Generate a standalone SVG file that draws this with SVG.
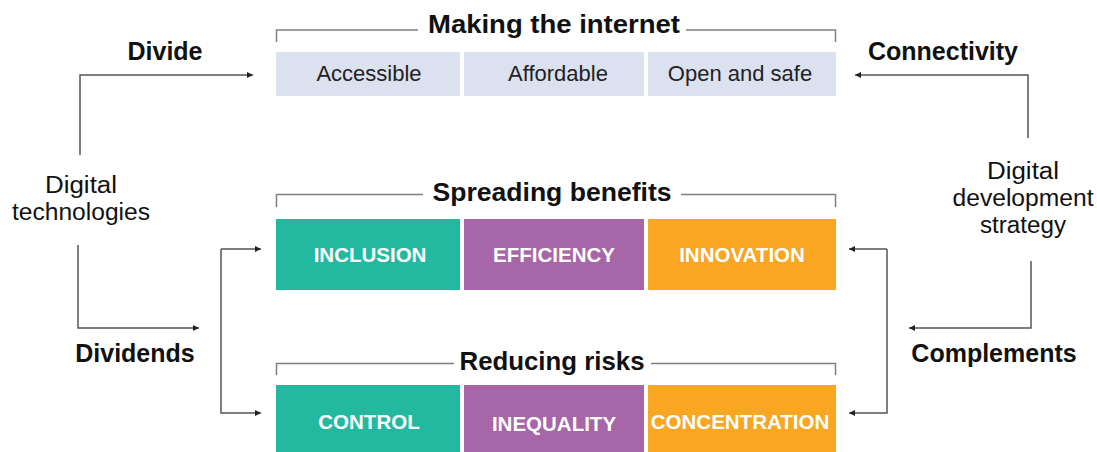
<svg xmlns="http://www.w3.org/2000/svg" width="1097" height="452" viewBox="0 0 1097 452">
<style>
.lbl{font-family:"Liberation Sans",Arial,sans-serif;font-size:25px;fill:#111;text-anchor:middle}
.ml{font-family:"Liberation Sans",Arial,sans-serif;font-size:23px;fill:#111;text-anchor:middle}
.bold{font-weight:bold}
.title{font-family:"Liberation Sans",Arial,sans-serif;font-size:26px;font-weight:bold;fill:#111;text-anchor:middle}
.top{font-family:"Liberation Sans",Arial,sans-serif;font-size:22px;fill:#222;text-anchor:middle}
.box{font-family:"Liberation Sans",Arial,sans-serif;font-size:20.5px;font-weight:bold;fill:#fff;text-anchor:middle}
.br{fill:none;stroke:#808080;stroke-width:1.5}
.con{fill:none;stroke:#555;stroke-width:1.5}
.light{fill:#DCE1F0}
.teal{fill:#23B9A0}
.purple{fill:#A766A8}
.orange{fill:#F9A622}
</style>
<defs>
<marker id="arr" viewBox="0 0 10 10" refX="10" refY="5" markerWidth="6" markerHeight="6" markerUnits="userSpaceOnUse" orient="auto">
<path d="M0,0 L10,5 L0,10 z" fill="#222"/>
</marker>
</defs>

<g id="making-internet">
<path class="br" d="M276.5,42 V30 H418 M686,30 H835.5 V42"/>
<text class="title" x="554" y="33" textLength="252" lengthAdjust="spacingAndGlyphs">Making the internet</text>
<rect class="light" x="276" y="52" width="184" height="44"/>
<rect class="light" x="464" y="52" width="180" height="44"/>
<rect class="light" x="648" y="52" width="188" height="44"/>
<text class="top" x="369" y="81">Accessible</text>
<text class="top" x="558" y="81">Affordable</text>
<text class="top" x="740" y="81">Open and safe</text>
</g>

<g id="spreading-benefits">
<path class="br" d="M276.5,207 V194.5 H423 M681,194.5 H835.5 V207"/>
<text class="title" x="552" y="201" textLength="239" lengthAdjust="spacingAndGlyphs">Spreading benefits</text>
<rect class="teal" x="276" y="219" width="184" height="71"/>
<rect class="purple" x="464" y="219" width="180" height="71"/>
<rect class="orange" x="648" y="219" width="188" height="71"/>
<text class="box" x="370" y="262">INCLUSION</text>
<text class="box" x="554" y="262">EFFICIENCY</text>
<text class="box" x="742" y="262">INNOVATION</text>
</g>

<g id="reducing-risks">
<path class="br" d="M276.5,375 V363.5 H454 M651,363.5 H835.5 V375"/>
<text class="title" x="552" y="370" textLength="185" lengthAdjust="spacingAndGlyphs">Reducing risks</text>
<rect class="teal" x="276" y="385" width="184" height="67"/>
<rect class="purple" x="464" y="385" width="180" height="67"/>
<rect class="orange" x="648" y="385" width="188" height="67"/>
<text class="box" x="369" y="429">CONTROL</text>
<text class="box" x="554" y="431">INEQUALITY</text>
<text class="box" x="740" y="429">CONCENTRATION</text>
</g>

<g id="digital-technologies">
<text class="ml" x="81" y="193" textLength="72" lengthAdjust="spacingAndGlyphs">Digital</text>
<text class="ml" x="81" y="220" textLength="138" lengthAdjust="spacingAndGlyphs">technologies</text>
</g>

<g id="digital-development-strategy">
<text class="ml" x="1023" y="179" textLength="72" lengthAdjust="spacingAndGlyphs">Digital</text>
<text class="ml" x="1023" y="206" textLength="141" lengthAdjust="spacingAndGlyphs">development</text>
<text class="ml" x="1023" y="233" textLength="86" lengthAdjust="spacingAndGlyphs">strategy</text>
</g>

<g id="connectors">
<path class="con" d="M80,155 V75 H253" marker-end="url(#arr)"/>
<path class="con" d="M1028,138 V75 H855" marker-end="url(#arr)"/>
<path class="con" d="M78,245 V328 H199" marker-end="url(#arr)"/>
<path class="con" d="M1031,261 V328 H909" marker-end="url(#arr)"/>
<path class="con" d="M221,249 V413 H261" marker-end="url(#arr)"/>
<path class="con" d="M221,249 H261" marker-end="url(#arr)"/>
<path class="con" d="M887,249 V413 H849" marker-end="url(#arr)"/>
<path class="con" d="M887,249 H849" marker-end="url(#arr)"/>
<text class="lbl bold" x="165" y="60">Divide</text>
<text class="lbl bold" x="943" y="60">Connectivity</text>
<text class="lbl bold" x="135" y="362">Dividends</text>
<text class="lbl bold" x="994" y="362">Complements</text>
</g>
</svg>
